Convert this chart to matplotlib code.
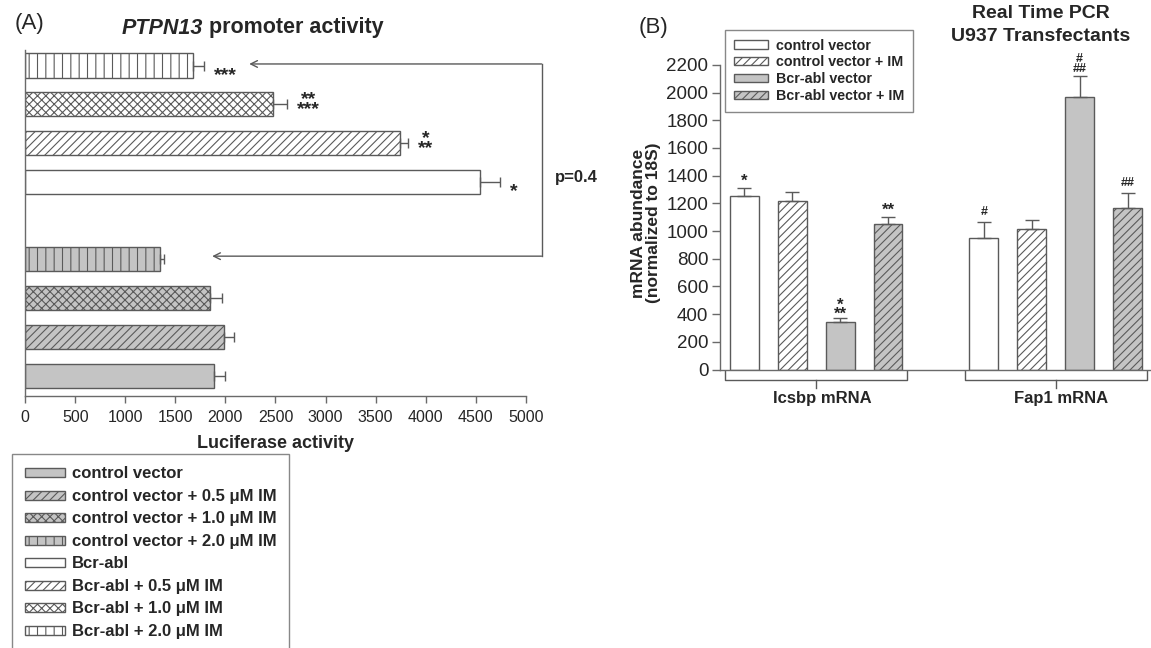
import numpy as np
import matplotlib
matplotlib.use("Agg")
from matplotlib import pyplot as plt

plt.rcParams["font.family"] = ["Liberation Sans", "DejaVu Sans"]
plt.rcParams["hatch.linewidth"] = 0.8
plt.rcParams["hatch.color"] = "#5a5a5a"

# ---- Panel A data (bottom bar first) ----
luc_labels = ["control vector", "control vector + 0.5 \u03bcM IM",
              "control vector + 1.0 \u03bcM IM", "control vector + 2.0 \u03bcM IM",
              "Bcr-abl", "Bcr-abl + 0.5 \u03bcM IM", "Bcr-abl + 1.0 \u03bcM IM",
              "Bcr-abl + 2.0 \u03bcM IM"]
luc_mean = [1890, 1990, 1850, 1345, 4545, 3745, 2480, 1675]
luc_err = [110, 95, 115, 45, 200, 80, 140, 115]
luc_marks = ["", "", "", "", "*", "*\n**", "**\n***", "***"]
luc_ticks = [0, 500, 1000, 1500, 2000, 2500, 3000, 3500, 4000, 4500, 5000]

# ---- Panel B data ----
pcr_groups = ["Icsbp mRNA", "Fap1 mRNA"]
pcr_series = ["control vector", "control vector + IM", "Bcr-abl vector", "Bcr-abl vector + IM"]
icsbp_mean = [1255, 1220, 340, 1050]
icsbp_err = [55, 60, 31, 50]
icsbp_marks = ["*", "", "*\n**", "**"]
fap1_mean = [947, 1014, 1968, 1166]
fap1_err = [116, 63, 150, 105]
fap1_marks = ["#", "", "#\n##", "##"]
pcr_ticks = [0, 200, 400, 600, 800, 1000, 1200, 1400, 1600, 1800, 2000, 2200]

GREY = "#c4c4c4"
EDGE = "#5a5a5a"
TXT = "#262626"
W, H = 1151, 648


def px(v):
    return v * 0.72  # pixels -> points at dpi 100


def put_marks(ax, x, y, text, dx, dy, size, pitch):
    # one text per mark stack; dy = wanted centre of the glyphs (px, up is +)
    em = size * 100 / 72
    g = 0.56 if "*" in text else 0.35
    ls = (pitch / em - 0.21) / 0.73
    off = dy - (g - 0.26) * em
    ax.annotate(text, (x, y), xytext=(px(dx), px(off)), textcoords="offset points",
                ha="center", va="center", multialignment="center", linespacing=ls,
                fontsize=size, fontweight="bold", color=TXT, annotation_clip=False)


fig = plt.figure(figsize=(W / 100, H / 100), dpi=100)
fig.patch.set_facecolor("white")

# ================= Panel A =================
ax = fig.add_axes([25.2 / W, 1 - 396 / H, 500.5 / W, 346 / H])
ypos = [i + (i >= 4) for i in range(len(luc_mean))]
hatches_a = ["", "////", "xxxx", "||"] * 2
colors_a = [GREY] * 4 + ["white"] * 4
for i in range(len(luc_mean)):
    ax.barh(ypos[i], luc_mean[i], height=0.62, color=colors_a[i], edgecolor=EDGE,
            hatch=hatches_a[i], linewidth=1.0, label=luc_labels[i],
            xerr=[[0], [luc_err[i]]], error_kw=dict(ecolor=EDGE, elinewidth=1.0,
                                                     capsize=3.5, capthick=1.0))
    if luc_marks[i]:
        lines = luc_marks[i].split("\n")
        widest = max(len(s) for s in lines)
        dy = -4 if len(lines) == 1 else 5.5
        put_marks(ax, luc_mean[i] + luc_err[i], ypos[i], luc_marks[i],
                  10 + 3.8 * widest, dy, 14, 11)

ax.set_xlim(0, 5000)
ax.set_ylim(-0.52, 8.4)
ax.set_xticks(luc_ticks)
ax.set_yticks([])
for s in ["top", "right"]:
    ax.spines[s].set_visible(False)
for s in ["left", "bottom"]:
    ax.spines[s].set_color("#6a6a6a")
    ax.spines[s].set_linewidth(1.0)
ax.tick_params(axis="x", direction="out", length=5, width=1, color="#6a6a6a",
               labelsize=11.5, labelcolor=TXT, pad=5)
ax.set_xlabel("Luciferase activity", fontsize=13, fontweight="bold", color=TXT, labelpad=7)
ax.set_facecolor("none")

# bracket with arrows, p value
xb = 5158
ax.plot([xb, xb], [ypos[7] + 0.04, ypos[3] + 0.085], color=EDGE, lw=1.0, clip_on=False)
ax.annotate("", xy=(2238, ypos[7] + 0.04), xytext=(xb, ypos[7] + 0.04),
            arrowprops=dict(arrowstyle="->", color=EDGE, lw=1.0, mutation_scale=12,
                            shrinkA=0, shrinkB=0), annotation_clip=False)
ax.annotate("", xy=(1868, ypos[3] + 0.085), xytext=(xb, ypos[3] + 0.085),
            arrowprops=dict(arrowstyle="->", color=EDGE, lw=1.0, mutation_scale=12,
                            shrinkA=0, shrinkB=0), annotation_clip=False)
ax.text(5290, ypos[4] + 0.12, "p=0.4", fontsize=12, fontweight="bold", color=TXT,
        va="center", ha="left", clip_on=False)

fig.text(15 / W, 1 - 24 / H, "(A)", fontsize=16, color=TXT, va="center", ha="left")
t1 = fig.text(122 / W, 1 - 28 / H, "PTPN13", fontsize=15.5, fontweight="bold",
              fontstyle="italic", color=TXT, va="center", ha="left")
ax.annotate(" promoter activity", xy=(1, 0), xycoords=t1, va="bottom", ha="left",
            fontsize=15.5, fontweight="bold", color=TXT)

h_a, l_a = ax.get_legend_handles_labels()
fig.legend(h_a, l_a, loc="upper left", bbox_to_anchor=(12 / W, 1 - 454 / H),
           borderaxespad=0, prop=dict(weight="bold", size=12),
           handlelength=2.4, handleheight=0.45, handletextpad=0.42,
           labelspacing=0.45, borderpad=0.75, fancybox=False, frameon=True,
           edgecolor="#6a6a6a", labelcolor=TXT)

# ================= Panel B =================
bx = fig.add_axes([719.5 / W, 1 - 369.5 / H, 431 / W, 304.7 / H])
colors_b = ["white", "white", GREY, GREY]
hatches_b = ["", "////", "", "////"]
group_data = [(icsbp_mean, icsbp_err, icsbp_marks), (fap1_mean, fap1_err, fap1_marks)]
for g, (means, errs, marks) in enumerate(group_data):
    xs = [g * 5 + k for k in range(len(means))]
    for k in range(len(means)):
        bx.bar(xs[k], means[k], width=0.6, color=colors_b[k], edgecolor=EDGE,
               hatch=hatches_b[k], linewidth=1.0,
               label=pcr_series[k] if g == 0 else None,
               yerr=[[0], [errs[k]]], error_kw=dict(ecolor=EDGE, elinewidth=1.0,
                                                    capsize=5, capthick=1.0))
        if marks[k]:
            n = marks[k].count("\n") + 1
            dy = 11.5 if n == 1 else 13.25
            star = "*" in marks[k]
            put_marks(bx, xs[k], means[k] + errs[k], marks[k], 0, dy,
                      12 if star else 9, 10 if star else 9)
    # group bracket below the axis
    x0, x1 = xs[0] - 0.4, xs[-1] + 0.4
    xm = (xs[0] + xs[-1]) / 2
    bx.plot([x0, x0, x1, x1], [-14, -76, -76, -14], color=EDGE, lw=1.0, clip_on=False)
    bx.plot([xm, xm], [-76, -134], color=EDGE, lw=1.0, clip_on=False)
    bx.annotate(pcr_groups[g], xy=(xm + 0.12, 0), xycoords=("data", "axes fraction"),
                xytext=(0, px(-28.5)), textcoords="offset points", ha="center",
                va="center", fontsize=12, fontweight="bold", color=TXT)

bx.set_xlim(-0.52, 8.48)
bx.set_ylim(0, 2200)
bx.set_yticks(pcr_ticks)
bx.set_xticks([])
for s in ["top", "right"]:
    bx.spines[s].set_visible(False)
for s in ["left", "bottom"]:
    bx.spines[s].set_color("#6a6a6a")
    bx.spines[s].set_linewidth(1.0)
bx.tick_params(axis="y", direction="out", length=6, width=1, color="#6a6a6a",
               labelsize=13.5, labelcolor=TXT, pad=2)
bx.set_facecolor("none")

fig.text(646 / W, 1 - 223 / H, "mRNA abundance\n(normalized to 18S)", rotation=90,
         fontsize=12.5, fontweight="bold", color=TXT, ha="center", va="center",
         multialignment="center", linespacing=1.0)
fig.text(639 / W, 1 - 27 / H, "(B)", fontsize=16, color=TXT, va="center", ha="left")
fig.text(1041 / W, 1 - 25 / H, "Real Time PCR\nU937 Transfectants", fontsize=14,
         fontweight="bold", color=TXT, ha="center", va="center", linespacing=1.4)

h_b, l_b = bx.get_legend_handles_labels()
fig.legend(h_b, l_b, loc="upper left", bbox_to_anchor=(725 / W, 1 - 30 / H),
           borderaxespad=0, prop=dict(weight="bold", size=10.3),
           handlelength=2.38, handleheight=0.5, handletextpad=0.56,
           labelspacing=0.2, borderpad=0.6, fancybox=False, frameon=True,
           edgecolor="#6a6a6a", labelcolor=TXT)

fig.savefig("out.png", dpi=100, facecolor="white")
